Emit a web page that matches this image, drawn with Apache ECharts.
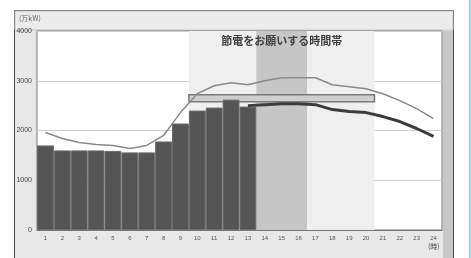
<!DOCTYPE html>
<html>
<head>
<meta charset="utf-8">
<style>
  html, body { margin: 0; padding: 0; background: #fff; }
  #chart { width: 471px; height: 258px; }
</style>
<script src="https://cdn.jsdelivr.net/npm/echarts@6.0.0/dist/echarts.min.js"></script>
</head>
<body>
<div id="chart"></div>
<script>
  // 時間帯 (1..24)
  var hours = ['1','2','3','4','5','6','7','8','9','10','11','12','13','14','15','16','17','18','19','20','21','22','23','24'];
  var yTicks = [0, 1000, 2000, 3000, 4000];

  // 実績 (万kW)
  var actual = [1700, 1600, 1600, 1600, 1590, 1560, 1560, 1780, 2140, 2400, 2460, 2620, 2480,
                null, null, null, null, null, null, null, null, null, null, null];
  // 細い線
  var upper = [1960, 1840, 1760, 1720, 1700, 1640, 1700, 1900, 2360, 2740, 2900, 2960, 2920,
               3000, 3060, 3060, 3060, 2920, 2880, 2840, 2740, 2600, 2440, 2240];
  // 予想 (太線)
  var forecast = [null, null, null, null, null, null, null, null, null, null, null, null, 2500,
                  2520, 2540, 2540, 2520, 2420, 2380, 2360, 2280, 2180, 2040, 1880];

  // 節電時間帯 [開始, 終了] 時, 帯の上下値
  var saveHours = [9, 20];
  var peakHours = [13, 16];
  var peakBand = [2580, 2720];
  var bandTitle = '節電をお願いする時間帯';

  var myChart = echarts.init(document.getElementById('chart'));

  myChart.setOption({
    animation: false,
    backgroundColor: '#ffffff',
    graphic: [
      { type: 'rect', z: -10, silent: true, shape: { x: 14.5, y: 10.5, width: 439, height: 260 },
        style: { fill: '#e8e8e8', stroke: '#4a4a4a', lineWidth: 1 } },
      { type: 'rect', z: -9, silent: true, shape: { x: 15, y: 11, width: 438, height: 19 },
        style: { fill: '#ececec', stroke: '#c4c4c4', lineWidth: 1 } },
      { type: 'rect', z: -9, silent: true, shape: { x: 443, y: 31, width: 10, height: 228 },
        style: { fill: '#c8c8c8' } },
      { type: 'rect', z: -9, silent: true, shape: { x: 469, y: 0, width: 2, height: 258 },
        style: { fill: '#8fd6f2' } },
      { type: 'text', z: 10, left: 19, top: 15,
        style: { text: '(万kW)', fontSize: 7, fill: '#666', fontFamily: 'Noto Sans CJK JP' } },
      { type: 'text', z: 10, left: 428, top: 243,
        style: { text: '(時)', fontSize: 7, fill: '#444', fontFamily: 'Noto Sans CJK JP' } }
    ],
    grid: {
      left: 37, top: 31, right: 29, bottom: 28,
      show: true,
      backgroundColor: '#ffffff',
      borderColor: '#777',
      borderWidth: 1
    },
    xAxis: [{
      type: 'category',
      data: hours,
      boundaryGap: true,
      axisLine: { lineStyle: { color: '#777' } },
      axisTick: { show: false },
      axisLabel: { fontSize: 6, color: '#555', margin: 5, interval: 0 }
    }, {
      type: 'value',
      min: 0, max: 24,
      show: false
    }],
    yAxis: {
      type: 'value',
      min: yTicks[0], max: yTicks[yTicks.length - 1], interval: 1000,
      axisLine: { show: false },
      axisTick: { show: false },
      axisLabel: { fontSize: 7, color: '#444', margin: 5, formatter: function (v) { return String(v); } },
      splitLine: { lineStyle: { color: '#d0d0d0', width: 1 } }
    },
    series: [
      {
        name: 'band',
        type: 'line',
        xAxisIndex: 1,
        data: [],
        silent: true,
        z: 1,
        markArea: {
          silent: true,
          data: [
            [{ xAxis: saveHours[0], yAxis: yTicks[0],
               itemStyle: { color: '#efefef' },
               label: { show: true, position: 'insideTop', distance: 4, formatter: bandTitle,
                        fontSize: 11, fontWeight: 'bold', color: '#404040',
                        fontFamily: 'Noto Sans CJK JP' } },
             { xAxis: saveHours[1], yAxis: yTicks[yTicks.length - 1] }],
            [{ xAxis: peakHours[0], yAxis: yTicks[0], itemStyle: { color: '#c6c6c6' } },
             { xAxis: peakHours[1], yAxis: yTicks[yTicks.length - 1] }]
          ]
        }
      },
      {
        name: '実績',
        type: 'bar',
        data: actual,
        barCategoryGap: 0,
        z: 3,
        itemStyle: { color: '#555555', borderColor: '#6a6a6a', borderWidth: 1 }
      },
      {
        name: 'peak',
        type: 'line',
        xAxisIndex: 1,
        data: [],
        silent: true,
        z: 4,
        markArea: {
          silent: true,
          data: [
            [{ xAxis: saveHours[0], yAxis: peakBand[0],
               itemStyle: { color: '#cfcfcf', borderColor: '#7a7a7a', borderWidth: 1.5 } },
             { xAxis: saveHours[1], yAxis: peakBand[1] }]
          ]
        }
      },
      {
        name: '細線',
        type: 'line',
        data: upper,
        showSymbol: false,
        z: 5,
        lineStyle: { color: '#8a8a8a', width: 1.5 }
      },
      {
        name: '予想',
        type: 'line',
        data: forecast,
        showSymbol: false,
        z: 6,
        lineStyle: { color: '#3c3c3c', width: 3 }
      }
    ]
  });
</script>
</body>
</html>
